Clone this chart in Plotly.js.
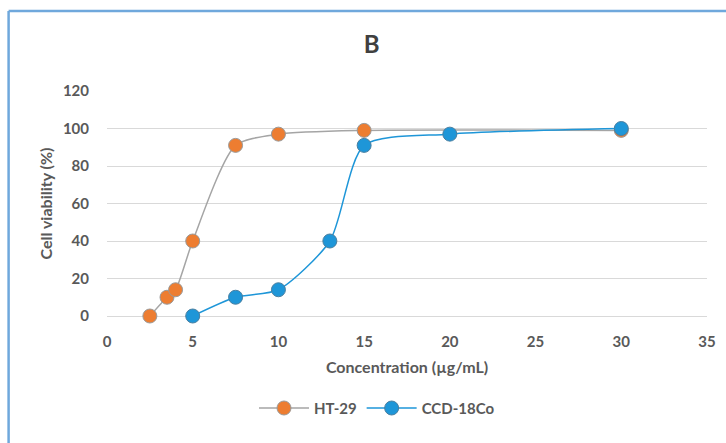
<!DOCTYPE html>
<html>
<head>
<meta charset="utf-8">
<script src="https://cdn.plot.ly/plotly-3.0.1.min.js"></script>
<style>html,body{margin:0;padding:0;background:#fff;}#chart{width:726px;height:443px;}</style>
</head>
<body>
<div id="chart"></div>
<script>
const htX = [2.5, 3.5, 4, 5, 7.5, 10, 15, 30];
const htY = [0, 10, 14, 40, 91, 97, 99, 99];
const ccdX = [5, 7.5, 10, 13, 15, 20, 30];
const ccdY = [0, 10, 14, 40, 91, 97, 100];
const seriesNames = ['HT-29', 'CCD-18Co'];
const titleText = 'B';
const xTitle = 'Concentration (µg/mL)';
const yTitle = 'Cell viability (%)';

const F = 'Lato, "Open Sans", "Liberation Sans", sans-serif';
const traces = [
  {x: htX, y: htY, name: seriesNames[0], type: 'scatter', mode: 'lines+markers', cliponaxis: false,
   line: {color: '#A5A5A5', width: 1.5, shape: 'spline', smoothing: 0.7},
   marker: {color: '#ED7D31', size: 14, line: {color: '#9a9a9a', width: 1}}},
  {x: ccdX, y: ccdY, name: seriesNames[1], type: 'scatter', mode: 'lines+markers', cliponaxis: false,
   line: {color: '#1E96D8', width: 1.5, shape: 'spline', smoothing: 0.7},
   marker: {color: '#1E96D8', size: 14, line: {color: '#4a7fa0', width: 1}}}
];
const layout = {
  width: 726, height: 443,
  margin: {l: 107, r: 19, t: 91, b: 127},
  paper_bgcolor: '#fff', plot_bgcolor: '#fff',
  font: {family: F, color: '#595959', size: 15},
  title: {text: '<b>' + titleText + '</b>', x: 0.512, xanchor: 'center', y: 0.9, yanchor: 'middle',
          font: {family: F, size: 24, color: '#404040'}},
  xaxis: {range: [0, 35], dtick: 5, showgrid: false, zeroline: false, showline: false,
          tickfont: {family: F, size: 15, color: '#595959', weight: 'bold'},
          ticks: 'outside', ticklen: 12, tickcolor: 'rgba(0,0,0,0)',
          title: {text: '<b>' + xTitle + '</b>', standoff: 12, font: {family: F, size: 16, color: '#595959'}}},
  yaxis: {range: [0, 120], dtick: 20, showgrid: true, gridcolor: '#D9D9D9', gridwidth: 1,
          zeroline: true, zerolinecolor: '#D9D9D9', zerolinewidth: 1, showline: false,
          tickfont: {family: F, size: 15, color: '#595959', weight: 'bold'},
          ticks: 'outside', ticklen: 14, tickcolor: 'rgba(0,0,0,0)',
          title: {text: '<b>' + yTitle + '</b>', standoff: 6, font: {family: F, size: 16, color: '#595959'}}},
  showlegend: true,
  legend: {orientation: 'h', x: 0.45, xanchor: 'center', y: -0.41, yanchor: 'middle',
           font: {family: F, size: 15, color: '#595959', weight: 'bold'}, itemwidth: 50},
  shapes: [
    {type: 'line', xref: 'paper', yref: 'paper', x0: -0.164, x1: -0.164, y0: 1.356, y1: -0.6,
     line: {color: '#6FA8DC', width: 2.5}},
    {type: 'line', xref: 'paper', yref: 'paper', x0: -0.164, x1: 1.1, y0: 1.356, y1: 1.356,
     line: {color: '#6FA8DC', width: 2.5}}
  ]
};
Plotly.newPlot('chart', traces, layout, {displayModeBar: false, staticPlot: true});
</script>
</body>
</html>
